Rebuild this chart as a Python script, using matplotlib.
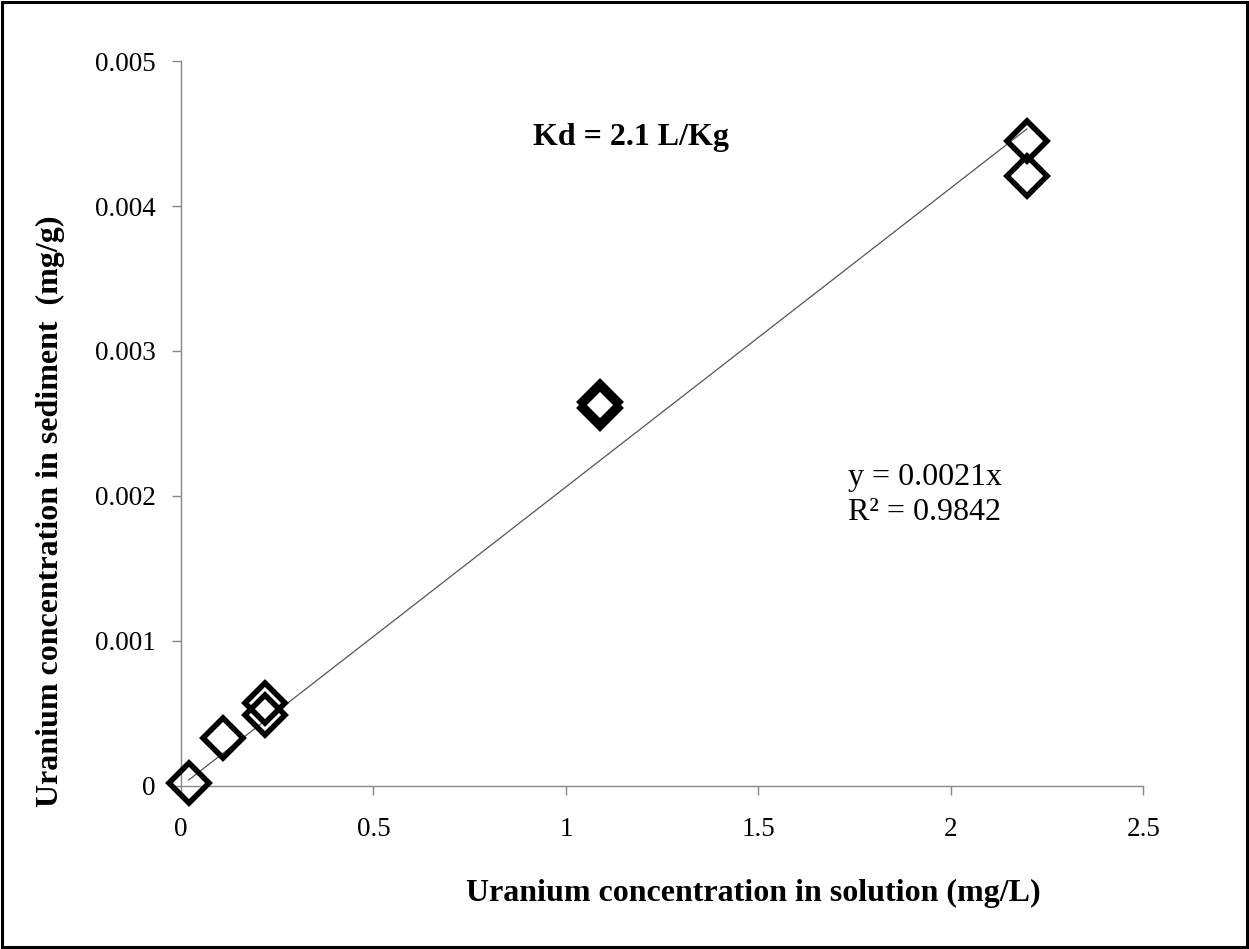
import numpy as np
import matplotlib
matplotlib.use("Agg")
import matplotlib.pyplot as plt
from matplotlib.patches import Rectangle

# Uranium sorption data
solution_conc = [0.02, 0.108, 0.218, 0.218, 1.088, 1.088, 2.197, 2.197]   # mg/L
sediment_conc = [0.000023, 0.00033, 0.00057, 0.00049, 0.00265, 0.00261, 0.00445, 0.00421]  # mg/g

x_ticks = [0, 0.5, 1, 1.5, 2, 2.5]
x_tick_labels = ["0", "0.5", "1", "1.5", "2", "2.5"]
y_ticks = [0, 0.001, 0.002, 0.003, 0.004, 0.005]
y_tick_labels = ["0", "0.001", "0.002", "0.003", "0.004", "0.005"]

plt.rcParams["font.family"] = ["Liberation Serif", "DejaVu Serif"]

fig = plt.figure(figsize=(12.49, 9.49), dpi=100)
ax = fig.add_axes([0.1449, 0.1718, 0.7706, 0.7639])

# linear trendline through the origin
x = np.array(solution_conc)
y = np.array(sediment_conc)
slope = np.sum(x * y) / np.sum(x * x)
x_line = np.array([x.min(), x.max()])
ax.plot(x_line, slope * x_line, color="#555555", lw=0.9, zorder=1)

ax.plot(solution_conc, sediment_conc, linestyle="none", marker="D", markersize=20,
        markerfacecolor="none", markeredgecolor="black", markeredgewidth=4, zorder=3,
        clip_on=False)

ax.set_xlim(0, 2.5)
ax.set_ylim(0, 0.005)
ax.set_xticks(x_ticks)
ax.set_xticklabels(x_tick_labels)
ax.set_yticks(y_ticks)
ax.set_yticklabels(y_tick_labels)

for side in ["top", "right"]:
    ax.spines[side].set_visible(False)
for side in ["left", "bottom"]:
    ax.spines[side].set_color("#868686")
    ax.spines[side].set_linewidth(1.0)

ax.tick_params(axis="both", direction="out", length=6.5, width=1.0, color="#868686",
               labelsize=19.5, labelcolor="black")
ax.tick_params(axis="x", pad=16)
ax.tick_params(axis="y", pad=11.5)

ax.set_xlabel("Uranium concentration in solution (mg/L)", fontsize=23, fontweight="bold",
              va="center")
ax.xaxis.set_label_coords(0.595, -0.1476)
ax.set_ylabel("Uranium concentration in sediment  (mg/g)", fontsize=23, fontweight="bold",
              va="center")
ax.yaxis.set_label_coords(-0.136, 0.379)

fig.text(631 / 1249, 1 - 138 / 949, "Kd = 2.1 L/Kg", fontsize=23, fontweight="bold",
         ha="center", va="center")
fig.text(848 / 1249, 1 - 478 / 949, "y = 0.0021x", fontsize=23, ha="left", va="center")
fig.text(848 / 1249, 1 - 512 / 949, "R\u00b2 = 0.9842", fontsize=23, ha="left", va="center")

# outer frame around the whole chart
fig.patches.append(Rectangle((0.0015, 0.002), 0.997, 0.996, transform=fig.transFigure,
                             fill=False, edgecolor="black", linewidth=2.2))

fig.savefig("out.png", dpi=100)
